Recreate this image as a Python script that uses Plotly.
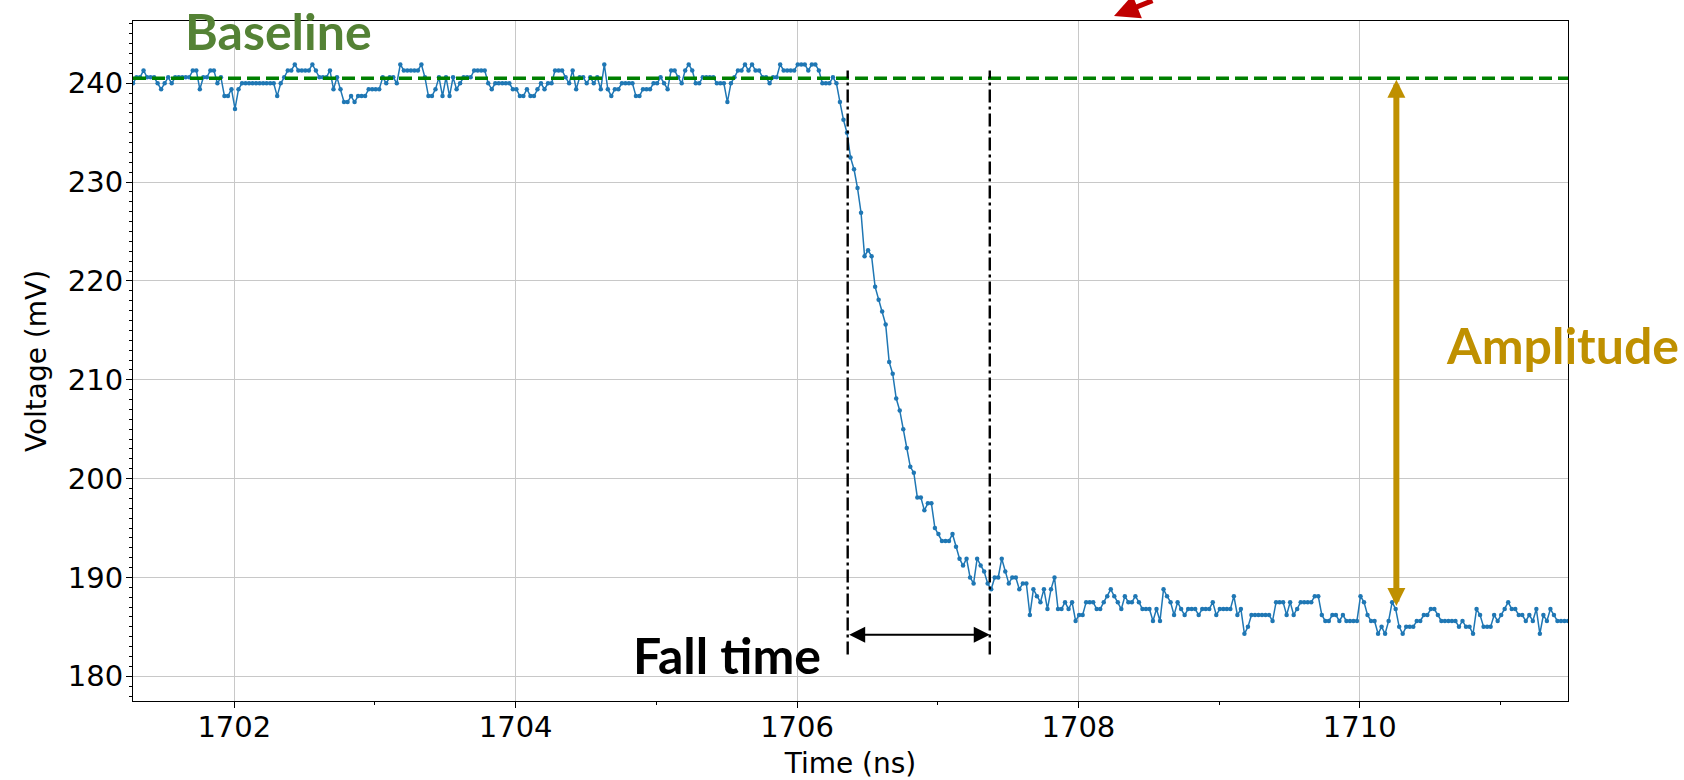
import numpy as np
import plotly.graph_objects as go

# ---------------- data ----------------
t_start = 1701.28      # ns, first sample
dt = 0.025             # ns, sampling interval

v_baseline = [
    240.0, 240.6, 240.6, 241.3, 240.6, 240.6, 240.6, 240.0, 239.4, 240.0,
    240.6, 240.0, 240.6, 240.6, 240.6, 240.6, 240.6, 241.3, 241.3, 239.4,
    240.6, 240.6, 241.3, 241.3, 240.0, 240.6, 238.7, 238.7, 239.4, 237.4,
    239.4, 240.0, 240.0, 240.0, 240.0, 240.0, 240.0, 240.0, 240.0, 240.0,
    240.0, 238.7, 240.0, 240.6, 241.3, 241.3, 241.9, 241.3, 241.3, 241.3,
    241.3, 241.9, 241.3, 240.6, 240.6, 240.6, 241.3, 239.4, 240.6, 239.4,
    238.1, 238.1, 238.7, 238.1, 238.7, 238.7, 238.7, 239.4, 239.4, 239.4,
    239.4, 240.6, 240.0, 240.6, 240.6, 240.0, 241.9, 241.3, 241.3, 241.3,
    241.3, 241.3, 241.9, 240.6, 238.7, 238.7, 239.4, 240.6, 238.7, 240.6,
    238.7, 240.6, 239.4, 240.0, 240.6, 240.6, 240.6, 241.3, 241.3, 241.3,
    241.3, 240.0, 239.4, 240.0, 240.0, 240.0, 240.0, 240.0, 239.4, 239.4,
    238.7, 238.7, 239.4, 238.7, 238.7, 239.4, 240.0, 239.4, 240.0, 240.0,
    241.3, 241.3, 241.3, 240.6, 240.0, 241.3, 239.4, 240.6, 240.6, 240.0,
    240.6, 240.0, 240.6, 239.4, 241.9, 239.4, 238.7, 239.4, 239.4, 240.0,
    240.0, 240.0, 240.0, 238.7, 238.7, 239.4, 239.4, 239.4, 240.0, 240.0,
    240.6, 240.0, 239.4, 241.3, 241.3, 240.6, 240.0, 241.3, 241.9, 241.3,
    240.0, 240.0, 240.6, 240.6, 240.6, 240.6, 240.0, 240.0, 240.0, 238.1,
    240.0, 240.6, 241.3, 241.3, 241.9, 241.3, 241.9, 241.3, 241.3, 240.6,
    240.6, 240.0, 240.6, 240.6, 241.9, 241.3, 241.3, 241.3, 241.3, 241.9,
    241.9, 241.9, 241.3, 241.9, 241.9, 241.3, 240.0, 240.0, 240.0, 240.6,
    240.0,
]

v_edge = [
    238.1, 236.3, 235.0, 232.5, 231.3, 229.4, 226.9, 222.5, 223.1, 222.5,
    219.4, 218.1, 216.9, 215.6, 211.8, 210.6, 208.1, 206.9, 205.0, 203.1,
    201.2, 200.6, 198.1, 198.1, 196.8, 197.5, 197.5, 195.0, 194.4, 193.7,
    193.7, 193.7, 194.4, 193.1, 191.9, 191.2, 191.9, 190.0, 189.4, 191.9,
    191.2, 190.6, 189.4, 188.8, 190.0, 190.0, 191.9, 190.6, 189.4, 190.0,
    190.0, 188.8, 189.4, 189.4, 186.2, 188.8, 188.1,
]

v_tail = [
    187.5, 188.8, 186.8, 188.8, 190.0, 186.8, 186.8, 187.5, 186.8, 187.5,
    185.6, 186.2, 186.2, 187.5, 187.5, 187.5, 186.8, 186.8, 187.5, 188.1,
    188.8, 188.1, 187.5, 186.8, 188.1, 187.5, 187.5, 188.1, 187.5, 186.8,
    186.8, 186.8, 185.6, 186.8, 185.6, 188.8, 188.1, 187.5, 186.2, 187.5,
    186.8, 186.2, 186.8, 186.8, 186.8, 186.2, 186.8, 186.8, 186.8, 187.5,
    186.2, 186.8, 186.8, 186.8, 186.8, 188.1, 186.2, 186.8, 184.3, 185.0,
    186.2, 186.2, 186.2, 186.2, 186.2, 186.2, 185.6, 187.5, 187.5, 187.5,
    186.2, 187.5, 186.2, 186.8, 187.5, 187.5, 187.5, 187.5, 188.1, 188.1,
    186.2, 185.6, 185.6, 186.2, 186.2, 185.6, 186.2, 185.6, 185.6, 185.6,
    185.6, 188.1, 187.5, 186.2, 185.6, 185.6, 184.3, 185.0, 184.3, 185.6,
    187.5, 186.8, 185.0, 184.3, 185.0, 185.0, 185.0, 185.6, 185.6, 186.2,
    186.2, 186.8, 186.8, 186.2, 185.6, 185.6, 185.6, 185.6, 185.6, 185.0,
    185.6, 185.0, 185.0, 184.3, 186.8, 186.2, 185.0, 185.0, 185.0, 186.2,
    185.6, 186.2, 186.8, 187.5, 186.8, 186.8, 186.2, 186.2, 185.6, 186.2,
    185.6, 186.8, 184.3, 186.2, 185.6, 186.8, 186.2, 185.6, 185.6, 185.6, 185.6,
]

baseline_level = 240.5          # mV
fall_start, fall_end = 1706.36, 1707.37   # ns
amplitude_x = 1710.26           # ns
amplitude_low = 187.1           # mV
marker_top, marker_bottom = 241.3, 182.2
fall_arrow_y = 184.2

x_ticks = [1702, 1704, 1706, 1708, 1710]
y_ticks = [180, 190, 200, 210, 220, 230, 240]

# ---------------- build ----------------
voltage = np.array(v_baseline + v_edge + v_tail)
time = t_start + dt * np.arange(len(voltage))

fig = go.Figure()
fig.add_trace(go.Scatter(
    x=time, y=voltage, mode="lines+markers",
    line=dict(color="#1f77b4", width=1.5),
    marker=dict(color="#1f77b4", size=4.5),
    showlegend=False,
))

dashdot = "13px,4px,3px,4px"
shapes = [
    dict(type="line", xref="x", yref="y", x0=time[0], x1=time[-1],
         y0=baseline_level, y1=baseline_level,
         line=dict(color="#008000", width=3.5, dash="13px,6px"), layer="above"),
    dict(type="line", xref="x", yref="y", x0=fall_start, x1=fall_start,
         y0=marker_bottom, y1=marker_top,
         line=dict(color="black", width=2.4, dash=dashdot), layer="above"),
    dict(type="line", xref="x", yref="y", x0=fall_end, x1=fall_end,
         y0=marker_bottom, y1=marker_top,
         line=dict(color="black", width=2.4, dash=dashdot), layer="above"),
]

label_font = "Lato, 'Open Sans', sans-serif"
annotations = [
    # amplitude double arrow
    dict(x=amplitude_x, y=amplitude_low, ax=amplitude_x, ay=baseline_level,
         xref="x", yref="y", axref="x", ayref="y", text="",
         showarrow=True, arrowside="end+start", arrowhead=2, startarrowhead=2,
         arrowsize=0.6, startarrowsize=0.6, arrowwidth=6, arrowcolor="#BF9000",
         standoff=0, startstandoff=0),
    # fall time double arrow
    dict(x=fall_end, y=fall_arrow_y, ax=fall_start, ay=fall_arrow_y,
         xref="x", yref="y", axref="x", ayref="y", text="",
         showarrow=True, arrowside="end+start", arrowhead=2, startarrowhead=2,
         arrowsize=1.6, startarrowsize=1.6, arrowwidth=2, arrowcolor="black",
         standoff=0, startstandoff=0),
    # red arrow at the top (mostly cut off)
    dict(x=(1114 - 133) / 1435, y=(701 - 16) / 680, xref="paper", yref="paper",
         ax=40, ay=-32, text="", showarrow=True, arrowhead=2, arrowsize=1.0,
         arrowwidth=5, arrowcolor="#C00000", standoff=0),
    dict(x=(278 - 133) / 1435, y=(701 - 31) / 680, xref="paper", yref="paper",
         text="<b>Baseline</b>", showarrow=False, xanchor="center", yanchor="middle",
         font=dict(family=label_font, size=50, color="#548235")),
    dict(x=(1562 - 133) / 1435, y=(701 - 345) / 680, xref="paper", yref="paper",
         text="<b>Amplitude</b>", showarrow=False, xanchor="center", yanchor="middle",
         font=dict(family=label_font, size=50, color="#BF9000")),
    dict(x=(727 - 133) / 1435, y=(701 - 655) / 680, xref="paper", yref="paper",
         text="<b>Fall time</b>", showarrow=False, xanchor="center", yanchor="middle",
         font=dict(family=label_font, size=50, color="black")),
]

axis_font = dict(family="DejaVu Sans", size=29, color="black")
fig.update_layout(
    width=1684, height=780,
    margin=dict(l=133, r=116, t=21, b=79, autoexpand=False),
    paper_bgcolor="white", plot_bgcolor="white",
    shapes=shapes, annotations=annotations,
    xaxis=dict(
        range=[time[0], time[-1]], tickvals=x_ticks, ticktext=[str(v) for v in x_ticks],
        ticks="outside", ticklen=6, tickwidth=1.2, tickcolor="black",
        ticklabelstandoff=-6,
        showline=True, mirror=True, linecolor="black", linewidth=1.2,
        showgrid=True, gridcolor="#c8c8c8", gridwidth=1, zeroline=False,
        tickfont=axis_font,
        minor=dict(dtick=1, tick0=1701, ticks="outside", ticklen=3, tickcolor="black",
                   showgrid=False),
        title=dict(text="Time (ns)", font=dict(family="DejaVu Sans", size=28, color="black"),
                   standoff=14),
    ),
    yaxis=dict(
        range=[177.5, 246.3], tickvals=y_ticks, ticktext=[str(v) for v in y_ticks],
        ticks="outside", ticklen=6, tickwidth=1.2, tickcolor="black",
        ticklabelstandoff=-3,
        showline=True, mirror=True, linecolor="black", linewidth=1.2,
        showgrid=True, gridcolor="#c8c8c8", gridwidth=1, zeroline=False,
        tickfont=axis_font,
        minor=dict(dtick=1, tick0=180, ticks="outside", ticklen=3, tickcolor="black",
                   showgrid=False),
        title=dict(text="Voltage (mV)", font=dict(family="DejaVu Sans", size=28, color="black"),
                   standoff=12),
    ),
)

fig.write_html("out.html")
